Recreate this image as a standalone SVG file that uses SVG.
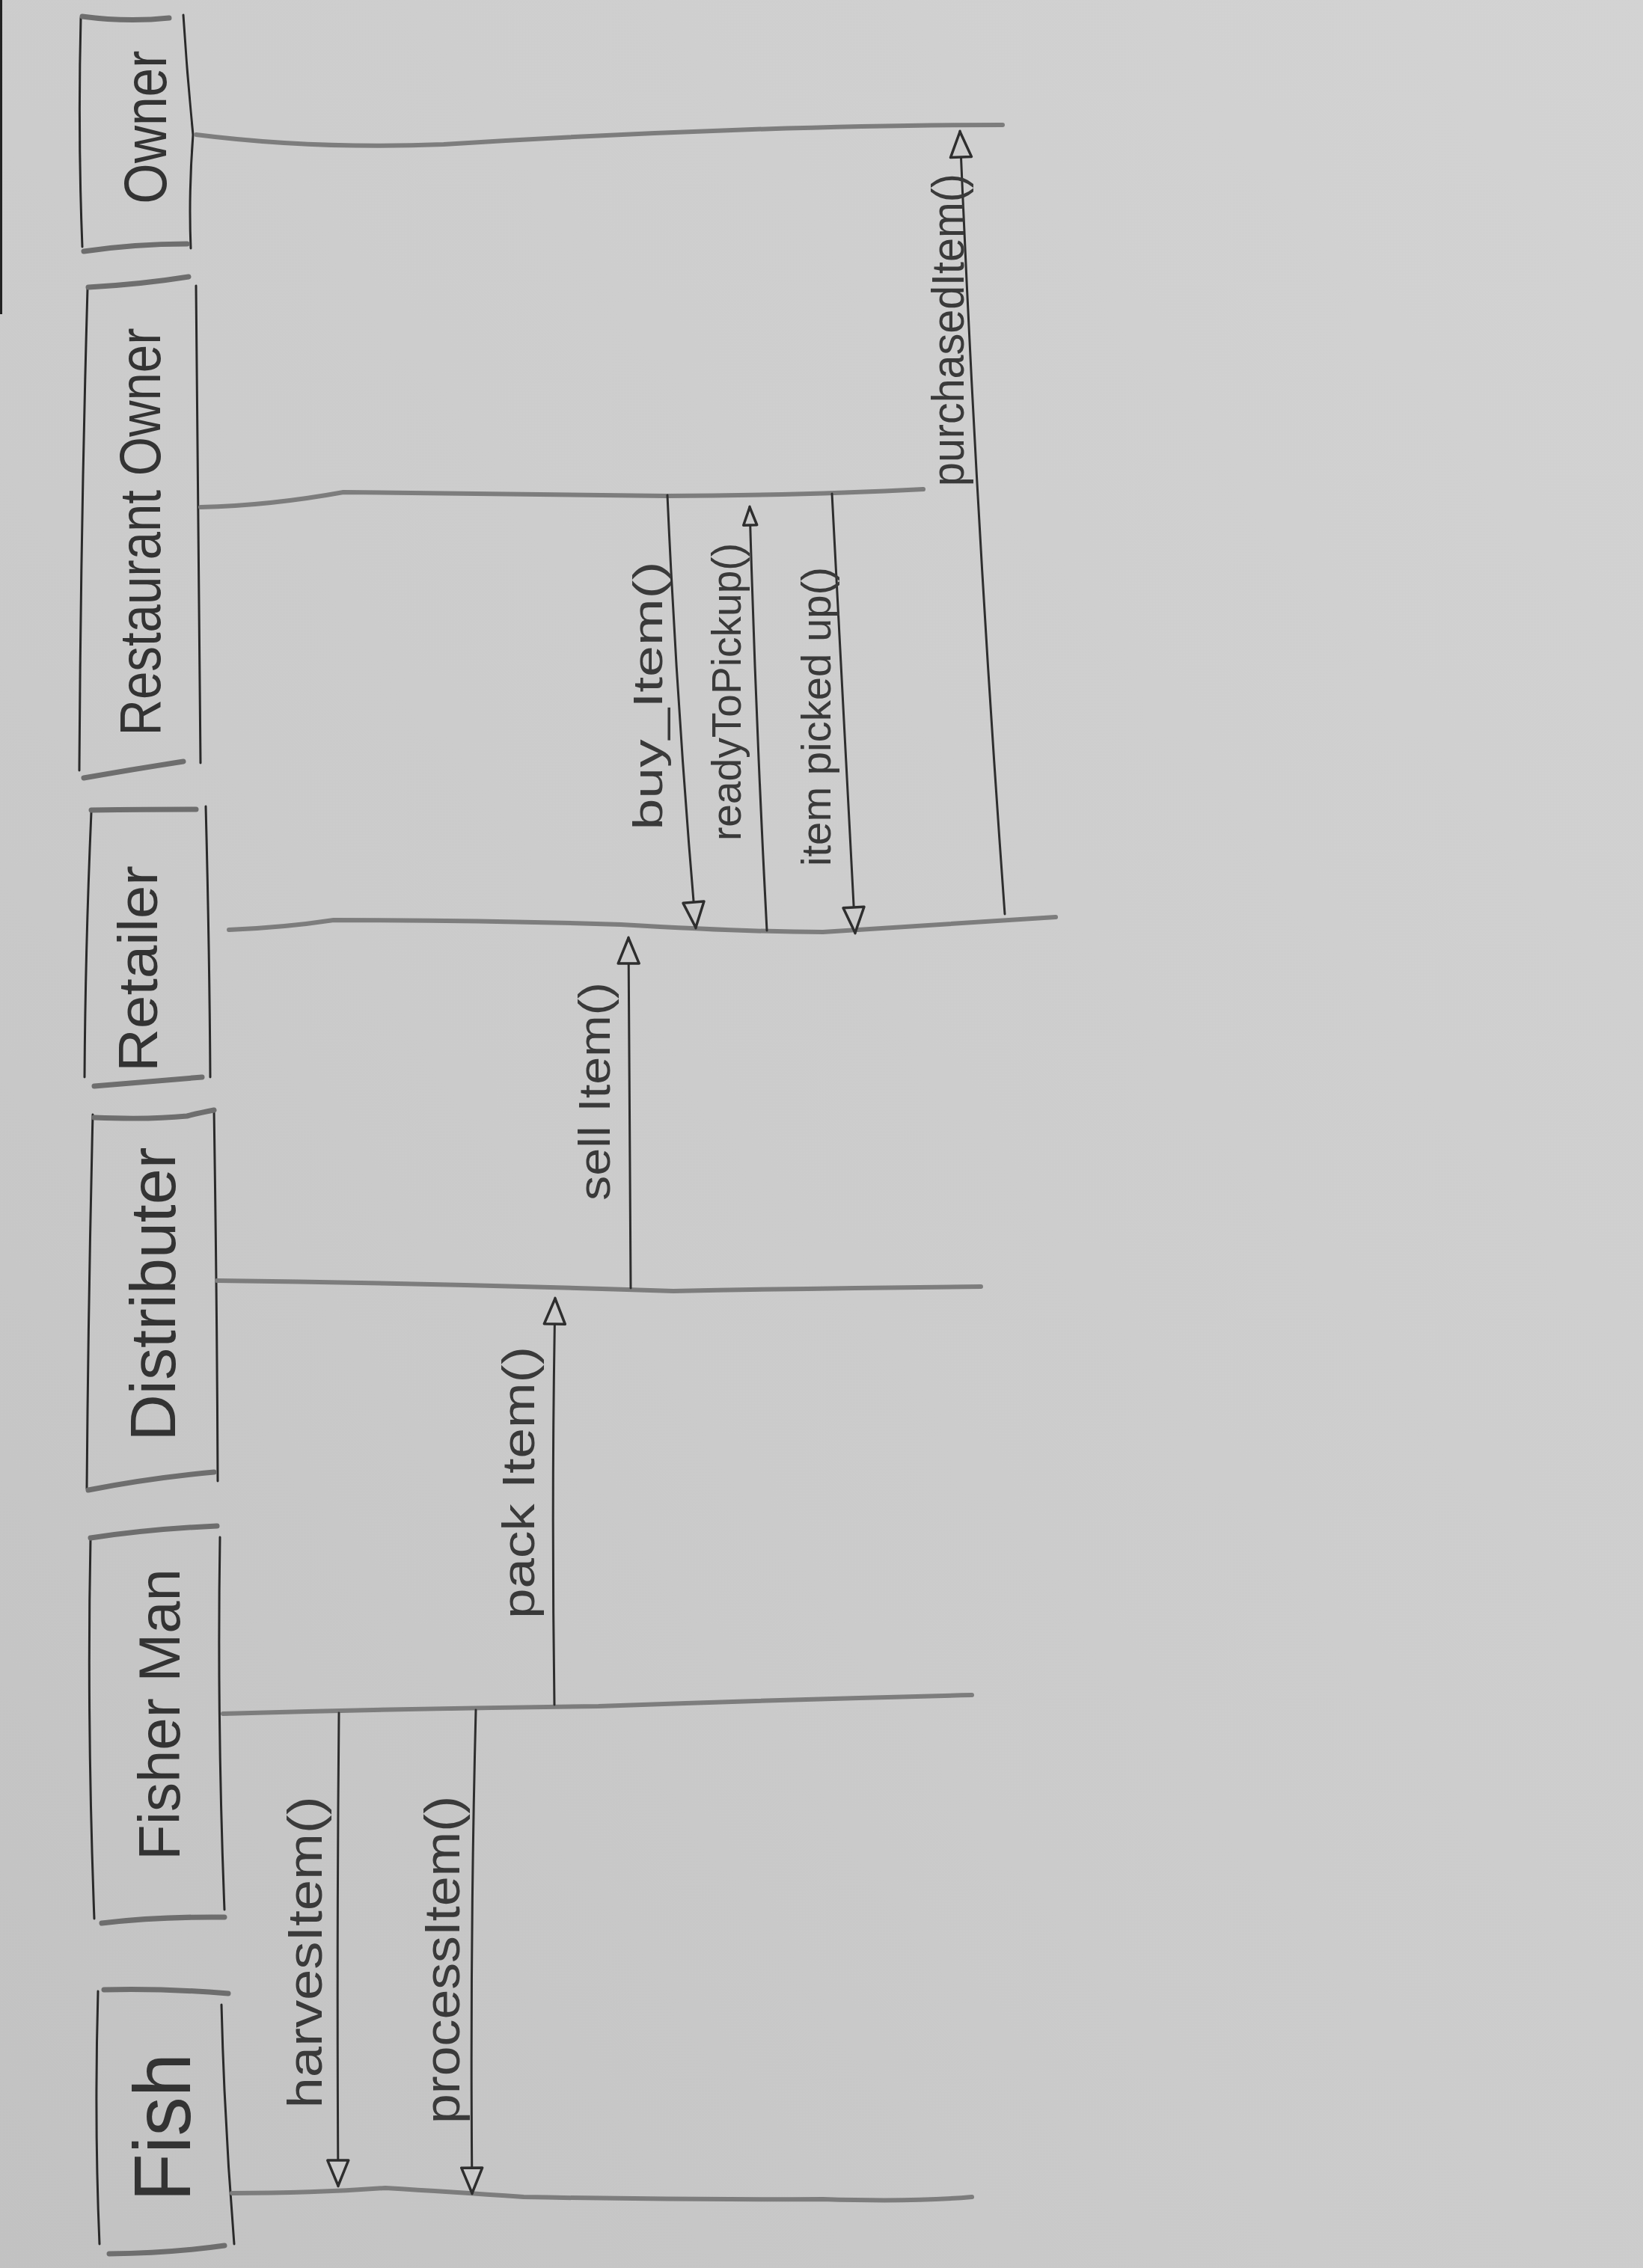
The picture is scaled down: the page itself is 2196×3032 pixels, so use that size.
<svg xmlns="http://www.w3.org/2000/svg" width="2196" height="3032" viewBox="0 0 2196 3032">
<defs>
<linearGradient id="paper" x1="1" y1="0" x2="0" y2="1">
<stop offset="0" stop-color="#d3d3d3"/>
<stop offset="0.6" stop-color="#cbcbcb"/>
<stop offset="1" stop-color="#c2c2c2"/>
</linearGradient>
<marker id="tri" markerUnits="userSpaceOnUse" viewBox="0 0 40 34" markerWidth="40" markerHeight="34" refX="38" refY="17" orient="auto">
<path d="M3,3 L37,17 L3,31 Z" fill="#cccccc" stroke="#2e2e2e" stroke-width="3.5" stroke-linejoin="round"/>
</marker>
<marker id="triS" markerUnits="userSpaceOnUse" viewBox="0 0 30 24" markerWidth="30" markerHeight="24" refX="28" refY="12" orient="auto">
<path d="M3,3 L27,12 L3,21 Z" fill="#cccccc" stroke="#2e2e2e" stroke-width="3.5" stroke-linejoin="round"/>
</marker>
</defs>
<style>
.side{fill:none;stroke:#2a2a2a;stroke-width:3;stroke-linecap:round}
.cap{fill:none;stroke:#6e6e6e;stroke-width:7;stroke-linecap:round}
.life{fill:none;stroke:#7d7d7d;stroke-width:6;stroke-linecap:round}
.msg{fill:none;stroke:#2e2e2e;stroke-width:3;stroke-linecap:round}
.lbl{font-family:"Liberation Sans",Arial,sans-serif;fill:#3a3a3a;text-anchor:middle}
.name{font-family:"Liberation Sans",Arial,sans-serif;fill:#333333;text-anchor:middle}
</style>
<rect x="0" y="0" width="2196" height="3032" fill="url(#paper)"/>
<rect x="0" y="0" width="3" height="420" fill="#222"/>

<g id="owner">
<path class="side" d="M108,24 Q104,180 110,330"/>
<path class="side" d="M245,20 Q250,100 258,180 Q252,260 255,332"/>
<path class="cap" d="M110,22 Q170,30 226,24" stroke="#8a8a8a" stroke-width="9"/>
<path class="cap" d="M112,336 Q180,326 250,326" stroke="#8a8a8a" stroke-width="9"/>
<text class="name" transform="translate(222,170) rotate(-90)" font-size="80" textLength="205" lengthAdjust="spacingAndGlyphs" fill="#6a6a6a">Owner</text>
<path class="life" stroke="#999" stroke-width="10" d="M262,180 Q420,200 593,193 Q800,180 1005,173 Q1200,167 1340,167"/>
</g>

<g id="restaurant-owner">
<path class="side" d="M117,386 Q108,700 106,1030"/>
<path class="side" d="M262,382 Q266,700 268,1020"/>
<path class="cap" d="M118,384 Q190,380 252,370"/>
<path class="cap" d="M112,1040 Q180,1028 245,1018"/>
<text class="name" transform="translate(214,711) rotate(-90)" font-size="78" textLength="545" lengthAdjust="spacingAndGlyphs">Restaurant Owner</text>
<path class="life" stroke="#8a8a8a" stroke-width="8" d="M268,678 Q360,676 459,658 Q700,660 890,663 Q1080,662 1234,654"/>
</g>

<g id="retailer">
<path class="side" d="M122,1086 Q114,1270 113,1440"/>
<path class="side" d="M275,1078 Q280,1270 281,1440"/>
<path class="cap" d="M122,1083 Q200,1082 262,1082"/>
<path class="cap" d="M126,1452 Q200,1446 270,1440"/>
<text class="name" transform="translate(210,1295) rotate(-90)" font-size="75" textLength="276" lengthAdjust="spacingAndGlyphs">Retailer</text>
<path class="life" d="M306,1243 Q380,1240 446,1230 Q650,1230 830,1236 Q1000,1246 1100,1246 Q1260,1236 1411,1226"/>
</g>

<g id="distributer">
<path class="side" d="M124,1490 Q118,1740 116,1990"/>
<path class="side" d="M286,1483 Q290,1740 291,1980"/>
<path class="cap" d="M126,1494 Q200,1497 250,1492 Q265,1488 286,1484"/>
<path class="cap" d="M118,1992 Q200,1976 286,1968"/>
<text class="name" transform="translate(234,1730) rotate(-90)" font-size="85" textLength="393" lengthAdjust="spacingAndGlyphs">Distributer</text>
<path class="life" d="M290,1712 Q600,1716 900,1726 Q1100,1722 1311,1720"/>
</g>

<g id="fisher-man">
<path class="side" d="M121,2057 Q116,2300 126,2565"/>
<path class="side" d="M294,2055 Q290,2300 300,2553"/>
<path class="cap" d="M121,2056 Q200,2044 290,2040"/>
<path class="cap" d="M136,2571 Q210,2562 300,2563"/>
<text class="name" transform="translate(240,2292) rotate(-90)" font-size="78" textLength="390" lengthAdjust="spacingAndGlyphs">Fisher Man</text>
<path class="life" d="M298,2291 Q550,2284 800,2281 Q1050,2272 1299,2266"/>
</g>

<g id="fish">
<path class="side" d="M131,2662 Q126,2840 133,3000"/>
<path class="side" d="M296,2680 Q300,2840 313,3000"/>
<path class="cap" d="M139,2660 Q220,2658 305,2665"/>
<path class="cap" d="M146,3013 Q230,3012 300,3002"/>
<text class="name" transform="translate(254,2844) rotate(-90)" font-size="108" textLength="198" lengthAdjust="spacingAndGlyphs">Fish</text>
<path class="life" d="M310,2932 Q420,2932 515,2925 Q600,2930 700,2937 Q900,2941 1100,2940 Q1220,2944 1299,2937"/>
</g>

<g id="connectors">
<path class="msg" marker-end="url(#tri)" d="M453,2290 Q450,2600 452,2923"/>
<text class="lbl" transform="translate(430,2610) rotate(-90)" font-size="64" textLength="417" lengthAdjust="spacingAndGlyphs">harvesItem()</text>

<path class="msg" marker-end="url(#tri)" d="M636,2286 Q628,2600 631,2933"/>
<text class="lbl" transform="translate(614,2620) rotate(-90)" font-size="66" textLength="438" lengthAdjust="spacingAndGlyphs">processItem()</text>

<path class="msg" marker-end="url(#tri)" d="M741,2279 Q737,2000 742,1735"/>
<text class="lbl" transform="translate(714,1982) rotate(-90)" font-size="62" textLength="364" lengthAdjust="spacingAndGlyphs">pack Item()</text>

<path class="msg" marker-end="url(#tri)" d="M843,1722 Q841,1480 840,1253"/>
<text class="lbl" transform="translate(815,1459) rotate(-90)" font-size="60" textLength="292" lengthAdjust="spacingAndGlyphs">sell Item()</text>

<path class="msg" marker-end="url(#tri)" d="M892,662 Q905,950 930,1241"/>
<text class="lbl" transform="translate(885,930) rotate(-90)" font-size="56" textLength="359" lengthAdjust="spacingAndGlyphs">buy_Item()</text>

<path class="msg" marker-end="url(#triS)" d="M1025,1244 Q1010,960 1002,677"/>
<text class="lbl" transform="translate(990,925) rotate(-90)" font-size="56" textLength="398" lengthAdjust="spacingAndGlyphs">readyToPickup()</text>

<path class="msg" marker-end="url(#tri)" d="M1112,660 Q1126,950 1143,1248"/>
<text class="lbl" transform="translate(1110,958) rotate(-90)" font-size="56" textLength="400" lengthAdjust="spacingAndGlyphs">item picked up()</text>

<path class="msg" marker-end="url(#tri)" d="M1343,1222 Q1305,700 1283,175"/>
<text class="lbl" transform="translate(1288,441) rotate(-90)" font-size="62" textLength="418" lengthAdjust="spacingAndGlyphs" fill="#505050">purchasedItem()</text>
</g>
</svg>
